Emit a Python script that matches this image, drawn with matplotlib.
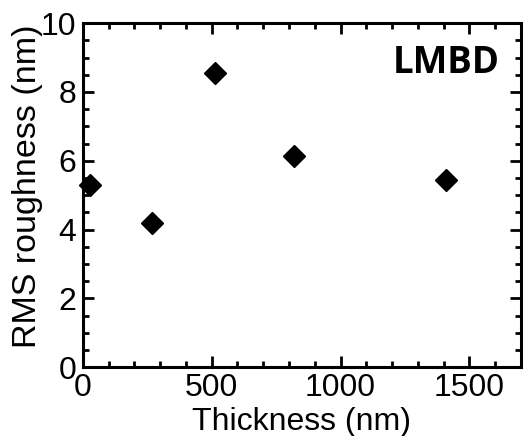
import matplotlib
matplotlib.use("Agg")
import matplotlib.pyplot as plt
from matplotlib.ticker import MultipleLocator

thickness = [27, 269, 511, 819, 1408]
roughness = [5.29, 4.19, 8.55, 6.13, 5.44]
label_text = "LMBD"

plt.rcParams['font.family'] = ['Liberation Sans', 'DejaVu Sans']

fig = plt.figure(figsize=(5.25, 4.36), dpi=100)
ax = fig.add_axes([0.158, 0.158, 0.834, 0.789])

ax.plot(thickness, roughness, linestyle='none', marker='D', color='black',
        markersize=11, clip_on=False, zorder=5)

ax.set_xlim(0, 1700)
ax.set_ylim(0, 10)
ax.xaxis.set_major_locator(MultipleLocator(500))
ax.xaxis.set_minor_locator(MultipleLocator(100))
ax.yaxis.set_major_locator(MultipleLocator(2))
ax.yaxis.set_minor_locator(MultipleLocator(0.5))

ax.tick_params(which='both', direction='in', top=True, right=True, width=2,
               labelsize=23)
ax.tick_params(axis='x', which='major', pad=4)
ax.tick_params(axis='y', which='major', pad=5)
ax.tick_params(which='major', length=8)
ax.tick_params(which='minor', length=4.5)
for s in ax.spines.values():
    s.set_linewidth(2.2)

ax.set_xlabel("Thickness (nm)", fontsize=23, labelpad=3)
ax.set_ylabel("RMS roughness (nm)", fontsize=24.5)
ax.yaxis.set_label_coords(-0.092, 0.526)

ax.text(0.952, 0.885, label_text, transform=ax.transAxes, ha='right', va='center',
        fontsize=26.5, fontweight='bold', family=['Open Sans', 'DejaVu Sans'])

fig.savefig("out.png", dpi=100)
